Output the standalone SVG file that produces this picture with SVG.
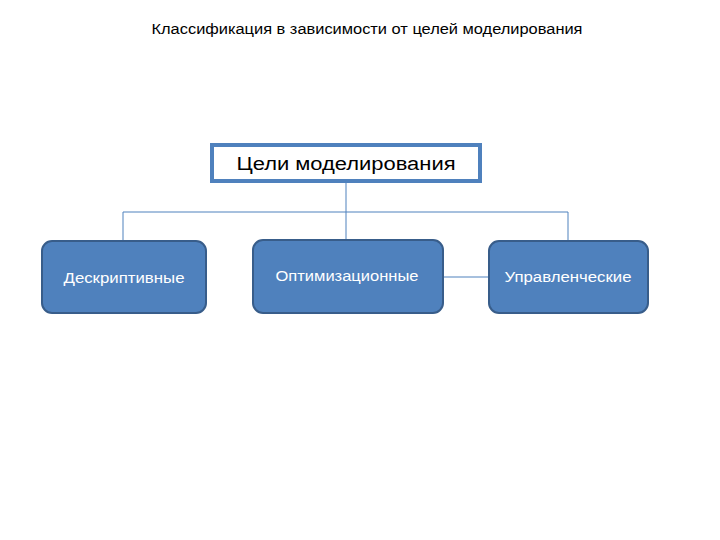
<svg xmlns="http://www.w3.org/2000/svg" width="720" height="540" viewBox="0 0 720 540">
<style>
.t{font-family:"Liberation Sans","DejaVu Sans",sans-serif;}
.box{fill:#4F81BD;stroke:#385D8A;stroke-width:2;}
.lbl{fill:#FFFFFF;font-size:14px;text-anchor:middle;}
.con{fill:none;stroke:#4F81BD;stroke-width:1;}
</style>
<rect width="720" height="540" fill="#FFFFFF"/>
<text class="t" x="367" y="34" font-size="14" text-anchor="middle" fill="#000000" textLength="431" lengthAdjust="spacingAndGlyphs">Классификация в зависимости от целей моделирования</text>
<g id="connectors">
<path class="con" d="M346,183 V240"/>
<path class="con" d="M123,240 V212 H568 V240"/>
<path class="con" d="M443,277 H489"/>
</g>
<g id="root">
<rect x="212" y="145" width="268" height="36" fill="#FFFFFF" stroke="#4F81BD" stroke-width="4"/>
<text class="t" x="346" y="170" font-size="18" text-anchor="middle" fill="#000000" textLength="219" lengthAdjust="spacingAndGlyphs">Цели моделирования</text>
</g>
<g id="n1">
<rect class="box" x="42" y="241" width="164" height="72" rx="10"/>
<text class="t lbl" x="124" y="283" textLength="121" lengthAdjust="spacingAndGlyphs">Дескриптивные</text>
</g>
<g id="n2">
<rect class="box" x="253" y="240" width="190" height="73" rx="10"/>
<text class="t lbl" x="347" y="281" textLength="143" lengthAdjust="spacingAndGlyphs">Оптимизационные</text>
</g>
<g id="n3">
<rect class="box" x="489" y="241" width="159" height="72" rx="10"/>
<text class="t lbl" x="568" y="282" textLength="127" lengthAdjust="spacingAndGlyphs">Управленческие</text>
</g>
</svg>
